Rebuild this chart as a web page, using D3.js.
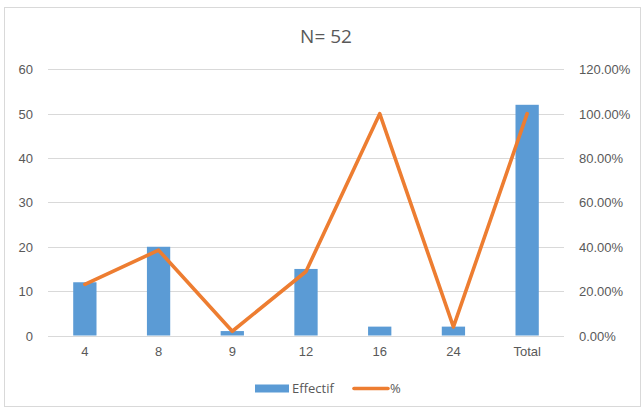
<!DOCTYPE html>
<html>
<head>
<meta charset="utf-8">
<script src="https://cdn.jsdelivr.net/npm/d3@7"></script>
<style>
html,body{margin:0;padding:0;background:#fff;}
svg{display:block;font-family:"Open Sans","Noto Sans",sans-serif;}
</style>
</head>
<body>
<svg id="chart" width="643" height="408"></svg>
<script>
const categories = ["4", "8", "9", "12", "16", "24", "Total"];
const effectif = [12, 20, 1, 15, 2, 2, 52];
const percent = [23.08, 38.46, 1.92, 28.85, 100, 3.85, 100];
const leftTicks = [0, 10, 20, 30, 40, 50, 60];
const rightTicks = [0, 20, 40, 60, 80, 100, 120];
const title = "N= 52";
const legendLabels = ["Effectif", "%"];

const svg = d3.select("#chart");
const W = 643, H = 408;
const plot = {left: 48, right: 564, top: 69.3, bottom: 335.5};
const barColor = "#5B9BD5", lineColor = "#ED7D31", textColor = "#595959", gridColor = "#D9D9D9";

// chart border
svg.append("rect").attr("x", 4.5).attr("y", 7.5).attr("width", 636).attr("height", 399)
  .attr("fill", "#fff").attr("stroke", gridColor).attr("stroke-width", 1);

const x = d3.scaleBand().domain(categories).range([plot.left, plot.right]).padding(0);
const yL = d3.scaleLinear().domain([0, 60]).range([plot.bottom, plot.top]);
const yR = d3.scaleLinear().domain([0, 120]).range([plot.bottom, plot.top]);

// gridlines
svg.append("g").selectAll("line").data(leftTicks).join("line")
  .attr("x1", plot.left).attr("x2", plot.right)
  .attr("y1", d => Math.round(yL(d)) + 0.5).attr("y2", d => Math.round(yL(d)) + 0.5)
  .attr("stroke", gridColor).attr("stroke-width", d => d === 0 ? 1.2 : 1);

// left axis
const axL = d3.axisLeft(yL).tickValues(leftTicks).tickSize(0).tickPadding(0);
const gL = svg.append("g").attr("transform", `translate(33,0)`).call(axL);
gL.select(".domain").remove();
gL.selectAll("text").attr("fill", textColor).style("font-size", "13px").attr("dy", "0.35em");

// right axis
const axR = d3.axisRight(yR).tickValues(rightTicks).tickSize(0).tickPadding(0)
  .tickFormat(d => d.toFixed(2) + "%");
const gR = svg.append("g").attr("transform", `translate(579,0)`).call(axR);
gR.select(".domain").remove();
gR.selectAll("text").attr("fill", textColor).style("font-size", "13px").attr("dy", "0.35em");

// x axis labels
const axB = d3.axisBottom(x).tickSize(0).tickPadding(0);
const gB = svg.append("g").attr("transform", `translate(0,${plot.bottom + 11})`).call(axB);
gB.select(".domain").remove();
gB.selectAll("text").attr("fill", textColor).style("font-size", "13px").attr("dy", "0.71em");

// bars
const bw = x.bandwidth() * 0.316;
svg.append("g").selectAll("rect").data(categories).join("rect")
  .attr("x", (d) => x(d) + x.bandwidth() / 2 - bw / 2)
  .attr("width", bw)
  .attr("y", (d, i) => yL(effectif[i]))
  .attr("height", (d, i) => yL(0) - yL(effectif[i]))
  .attr("fill", barColor);

// line
const line = d3.line()
  .x((d, i) => x(categories[i]) + x.bandwidth() / 2)
  .y(d => yR(d));
svg.append("path").datum(percent).attr("d", line)
  .attr("fill", "none").attr("stroke", lineColor).attr("stroke-width", 3.6)
  .attr("stroke-linejoin", "round").attr("stroke-linecap", "round");

// title
svg.append("text").attr("x", 326).attr("y", 43).attr("text-anchor", "middle")
  .attr("fill", textColor).style("font-size", "19px").text(title);

// legend
const lg = svg.append("g");
lg.append("rect").attr("x", 255).attr("y", 384.5).attr("width", 34).attr("height", 8).attr("fill", barColor);
lg.append("text").attr("x", 292).attr("y", 388.5).attr("dy", "0.35em").attr("fill", textColor)
  .style("font-size", "13px").text(legendLabels[0]);
lg.append("line").attr("x1", 354).attr("x2", 388).attr("y1", 388.5).attr("y2", 388.5)
  .attr("stroke", lineColor).attr("stroke-width", 3.6).attr("stroke-linecap", "round");
lg.append("text").attr("x", 390).attr("y", 388.5).attr("dy", "0.35em").attr("fill", textColor)
  .style("font-size", "13px").text(legendLabels[1]);
</script>
</body>
</html>
